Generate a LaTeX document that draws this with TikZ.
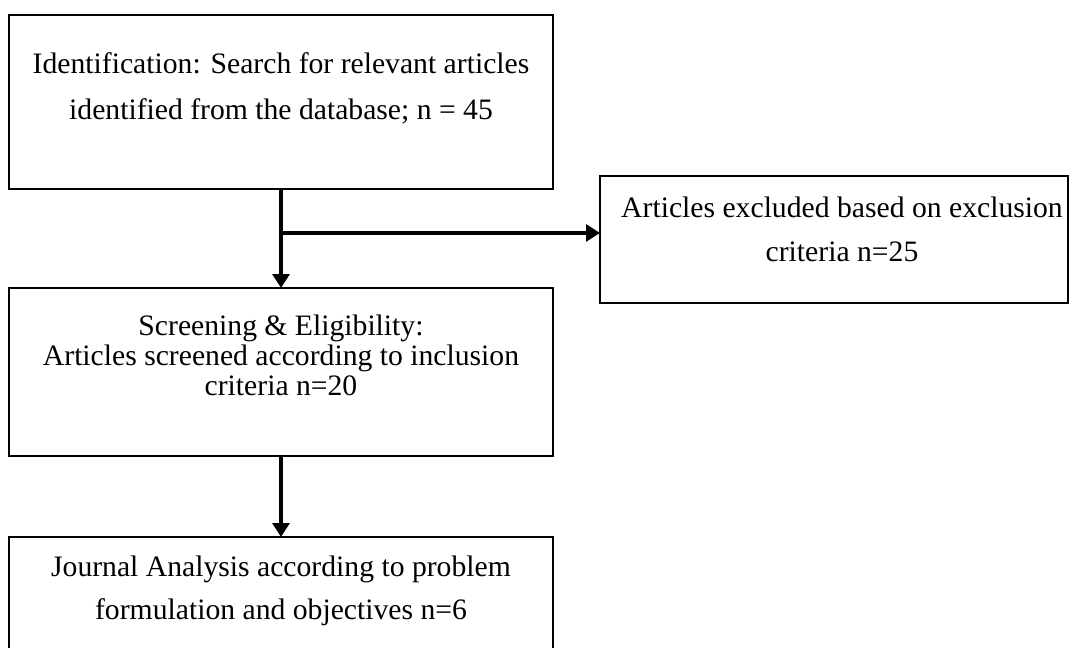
\documentclass[tikz,border=0pt]{standalone}
\usepackage{fontspec}
\setmainfont{Liberation Serif}
\usepackage{tikz}
\usetikzlibrary{arrows.meta, positioning, calc}

\begin{document}
\begin{tikzpicture}[
                box/.style={rectangle, draw=black, line width=1.9pt, fill=white, minimum width=13.6cm, inner sep=0pt, outer sep=0pt},
                txt/.style={align=center, inner sep=0pt, font=\fontsize{21.1}{32.7}\selectfont},
                arrow/.style={line width=2.6pt, -{Triangle[length=0.35cm, width=0.42cm]}}
            ]
                \useasboundingbox (0,0) rectangle (26.725,-16.2);
                \clip (0,0) rectangle (26.725,-16.2);

                % Nodes
                \node (ident) [box, minimum height=4.35cm] at (7.025,-2.55) {};
                \node (screen) [box, minimum height=4.2cm, below=2.475cm of ident] {};
                \node (journal) [box, minimum height=3.75cm, below=2.025cm of screen] {};
                \node (excl) [box, minimum width=11.7cm, minimum height=3.175cm, right=1.175cm of ident.east, yshift=-3.4375cm] {};

                % Texts
                \node (identtxt) [txt, below=0.94cm of ident.north] {Identification: Search for relevant articles\\ identified from the database; n = 45};
                \node (excltxt) [txt, font=\fontsize{21.1}{31.3}\selectfont, below=0.52cm of excl.north, xshift=0.2cm] {Articles excluded based on exclusion\\ criteria n=25};
                \node (screentxt) [txt, font=\fontsize{21.1}{21.3}\selectfont, below=0.67cm of screen.north] {Screening \& Eligibility:\\ Articles screened according to inclusion\\ criteria n=20};
                \node (journaltxt) [txt, font=\fontsize{21.1}{30.6}\selectfont, below=0.47cm of journal.north] {Journal Analysis according to problem\\ formulation and objectives n=6};

                % Arrows
                \coordinate (split) at ($(ident.south)!0.444!(screen.north)$);
                \draw [arrow] (ident) -- (screen);
                \draw [arrow] (split) -- (split -| excl.west);
                \draw [arrow] (screen) -- (journal);
            \end{tikzpicture}
\end{document}
